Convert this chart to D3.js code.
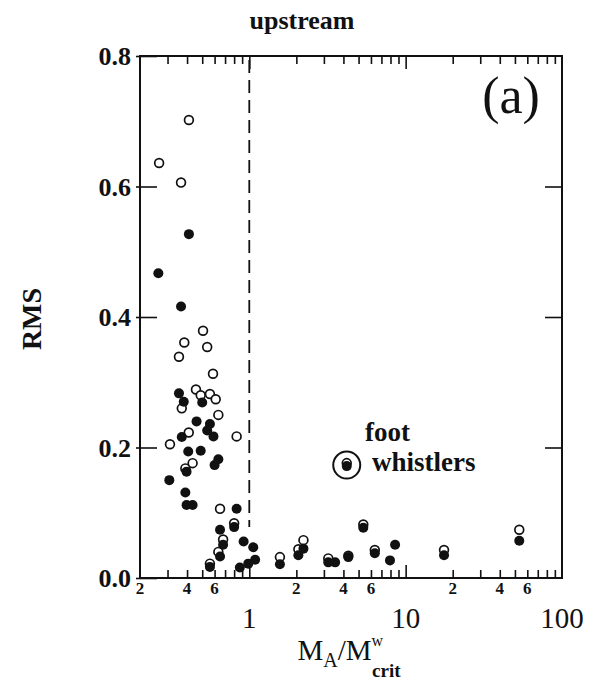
<!DOCTYPE html>
<html lang="en">
<head>
  <meta charset="UTF-8">
  <script src="https://d3js.org/d3.v7.min.js"></script>
  <title>upstream RMS</title>
  <style>
    body { margin: 0; background: #fff; }
    text { font-family: "Liberation Serif", "DejaVu Serif", serif; fill: #111; }
    .frame { fill: none; stroke: #111; stroke-width: 2; }
    .tick line { stroke: #111; stroke-width: 1.6; }
    .domain { display: none; }
  </style>
</head>
<body>
  <svg width="592" height="680"></svg>

  <script>
    // open circles (x = MA/Mw_crit, y = RMS)
    const openPts = [
      [0.411, 0.702], [0.265, 0.636], [0.366, 0.606], [0.506, 0.379], [0.384, 0.361],
      [0.538, 0.354], [0.355, 0.339], [0.586, 0.313], [0.456, 0.289], [0.489, 0.280],
      [0.56, 0.282], [0.61, 0.274], [0.37, 0.260], [0.634, 0.250], [0.41, 0.223],
      [0.83, 0.217], [0.311, 0.205], [0.434, 0.176], [0.39, 0.168], [0.65, 0.106],
      [0.80, 0.084], [0.68, 0.059], [0.634, 0.040], [0.56, 0.022], [1.57, 0.032],
      [2.06, 0.044], [2.22, 0.058], [3.2, 0.030], [4.3, 0.034], [5.36, 0.082],
      [6.35, 0.043], [17.6, 0.043], [53.3, 0.074]
    ];

    // filled circles
    const filledPts = [
      [0.411, 0.527], [0.262, 0.467], [0.366, 0.416], [0.355, 0.283], [0.381, 0.270],
      [0.5, 0.269], [0.46, 0.240], [0.56, 0.236], [0.538, 0.226], [0.59, 0.217],
      [0.37, 0.216], [0.407, 0.194], [0.489, 0.195], [0.634, 0.182], [0.6, 0.173],
      [0.397, 0.163], [0.308, 0.150], [0.39, 0.131], [0.397, 0.112], [0.434, 0.112],
      [0.83, 0.106], [0.80, 0.078], [0.65, 0.074], [0.68, 0.051], [0.92, 0.056],
      [1.06, 0.047], [0.65, 0.033], [1.09, 0.028], [0.985, 0.022], [0.56, 0.017],
      [0.87, 0.016], [1.57, 0.021], [2.06, 0.035], [2.22, 0.045], [3.2, 0.024],
      [3.54, 0.024], [4.3, 0.032], [5.36, 0.077], [6.35, 0.038], [7.94, 0.027],
      [8.56, 0.051], [17.6, 0.035], [53.3, 0.057]
    ];

    const yTicks = [0, 0.2, 0.4, 0.6, 0.8];
    const yLabels = ["0.0", "0.2", "0.4", "0.6", "0.8"];
    const xMinor = [0.3, 0.4, 0.5, 0.6, 0.7, 0.8, 0.9, 2, 3, 4, 5, 6, 7, 8, 9, 20, 30, 40, 50, 60, 70, 80, 90];
    const xMajor = [1, 10];
    const xSmallLabels = [0.2, 0.4, 0.6, 2, 4, 6, 20, 40, 60];
    const xBigLabels = [1, 10, 100];
    const criticalX = 1;
    const footWhistler = [4.2, 0.173];

    const svg = d3.select("svg");
    const pLeft = 140, pRight = 562, pTop = 56, pBottom = 578;

    const x = d3.scaleLog().domain([0.2, 100]).range([pLeft, pRight]);
    const y = d3.scaleLinear().domain([0, 0.8]).range([pBottom, pTop]);

    // frame
    svg.append("rect").attr("class", "frame")
      .attr("x", pLeft).attr("y", pTop)
      .attr("width", pRight - pLeft).attr("height", pBottom - pTop);

    // x ticks, inward on bottom and top
    svg.append("g").attr("transform", `translate(0,${pBottom})`)
      .call(d3.axisBottom(x).tickValues(xMinor).tickSize(-8).tickFormat(""));
    svg.append("g").attr("transform", `translate(0,${pBottom})`)
      .call(d3.axisBottom(x).tickValues(xMajor).tickSize(-13).tickFormat(""));
    svg.append("g").attr("transform", `translate(0,${pTop})`)
      .call(d3.axisTop(x).tickValues(xMinor).tickSize(-8).tickFormat(""));
    svg.append("g").attr("transform", `translate(0,${pTop})`)
      .call(d3.axisTop(x).tickValues(xMajor).tickSize(-13).tickFormat(""));

    // y ticks, inward on left and right
    svg.append("g").attr("transform", `translate(${pLeft},0)`)
      .call(d3.axisLeft(y).tickValues(yTicks).tickSize(-17).tickFormat(""));
    svg.append("g").attr("transform", `translate(${pLeft},0)`)
      .call(d3.axisLeft(y).tickValues(yTicks).tickSize(4).tickFormat(""));
    svg.append("g").attr("transform", `translate(${pRight},0)`)
      .call(d3.axisRight(y).tickValues(yTicks.slice(1, -1)).tickSize(-17).tickFormat(""));

    // tick labels
    svg.append("g").selectAll("text").data(xSmallLabels).join("text")
      .attr("x", d => x(d)).attr("y", pBottom + 16)
      .attr("text-anchor", "middle").attr("font-size", 17).attr("font-weight", "bold")
      .text(d => String(d).replace("0.", "").replace(/0$/, ""));
    svg.append("g").selectAll("text").data(xBigLabels).join("text")
      .attr("x", d => x(d)).attr("y", pBottom + 50)
      .attr("text-anchor", "middle").attr("font-size", 29)
      .text(d => d);
    svg.append("g").selectAll("text").data(yTicks).join("text")
      .attr("x", pLeft - 9).attr("y", d => y(d) + 9)
      .attr("text-anchor", "end").attr("font-size", 26).attr("font-weight", "bold")
      .text((d, i) => yLabels[i]);

    // critical Mach number line
    svg.append("line")
      .attr("x1", x(criticalX)).attr("x2", x(criticalX))
      .attr("y1", y(0.8) + 4).attr("y2", y(0.078))
      .attr("stroke", "#111").attr("stroke-width", 1.8)
      .attr("stroke-dasharray", "13,7");

    // points
    svg.append("g").selectAll("circle").data(openPts).join("circle")
      .attr("cx", d => x(d[0])).attr("cy", d => y(d[1])).attr("r", 4.4)
      .attr("fill", "#fff").attr("stroke", "#111").attr("stroke-width", 1.7);
    svg.append("g").selectAll("circle").data(filledPts).join("circle")
      .attr("cx", d => x(d[0])).attr("cy", d => y(d[1])).attr("r", 5)
      .attr("fill", "#111");

    // foot whistlers marker
    const fw = svg.append("g")
      .attr("transform", `translate(${x(footWhistler[0])},${y(footWhistler[1])})`);
    fw.append("circle").attr("r", 13.5).attr("fill", "none").attr("stroke", "#111").attr("stroke-width", 2);
    fw.append("circle").attr("cy", -2).attr("r", 4.4).attr("fill", "#fff").attr("stroke", "#111").attr("stroke-width", 1.7);
    fw.append("circle").attr("cy", 1).attr("r", 5).attr("fill", "#111");
    svg.append("text").attr("x", 365).attr("y", 441)
      .attr("font-size", 27).attr("font-weight", "bold").text("foot");
    svg.append("text").attr("x", 372).attr("y", 471)
      .attr("font-size", 27).attr("font-weight", "bold").text("whistlers");

    // titles
    svg.append("text").attr("x", 302).attr("y", 29)
      .attr("text-anchor", "middle").attr("font-size", 26).attr("font-weight", "bold")
      .text("upstream");
    svg.append("text").attr("x", 511).attr("y", 113)
      .attr("text-anchor", "middle").attr("font-size", 52)
      .text("(a)");
    svg.append("text")
      .attr("transform", "translate(41,319) rotate(-90)")
      .attr("text-anchor", "middle").attr("font-size", 28).attr("font-weight", "bold")
      .text("RMS");

    const xt = svg.append("text").attr("x", 349).attr("y", 660)
      .attr("text-anchor", "middle").attr("font-size", 29);
    xt.append("tspan").text("M");
    xt.append("tspan").attr("font-size", 20).attr("dy", 7).text("A");
    xt.append("tspan").attr("dy", -7).text("/M");
    xt.append("tspan").attr("font-size", 16).attr("dy", -14).text("w");
    xt.append("tspan").attr("font-size", 19).attr("font-weight", "bold").attr("dx", -11).attr("dy", 31).text("crit");
  </script>
</body>
</html>
